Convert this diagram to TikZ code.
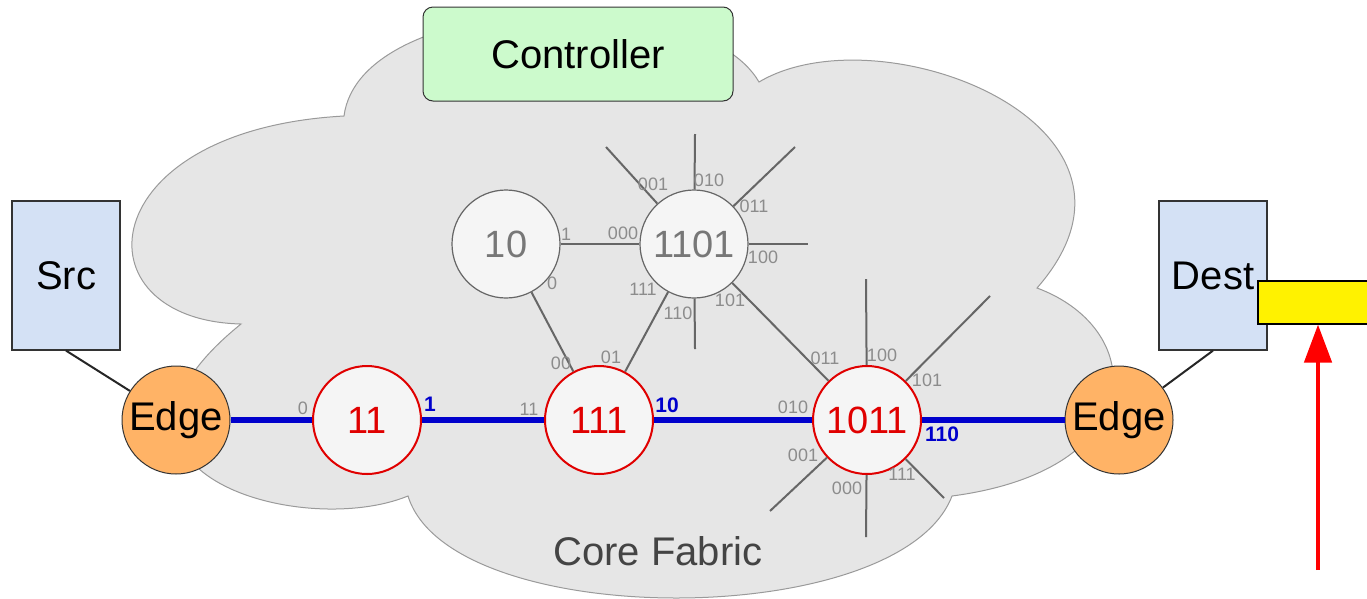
\documentclass[tikz,border=0pt]{standalone}
\usepackage{fontspec}
\setmainfont{Liberation Sans}
\usetikzlibrary{arrows.meta}

\definecolor{cloudfill}{HTML}{E6E6E6}
\definecolor{cloudline}{HTML}{9A9A9A}
\definecolor{nodefill}{HTML}{F5F5F5}
\definecolor{hopred}{HTML}{E00000}
\definecolor{linkgray}{HTML}{666666}
\definecolor{idletext}{HTML}{777777}
\definecolor{labgray}{HTML}{8C8C8C}
\definecolor{pathblue}{HTML}{0000CC}
\definecolor{edgeorange}{HTML}{FFB366}
\definecolor{hostblue}{HTML}{D4E1F5}
\definecolor{ctrlgreen}{HTML}{CCFACC}
\definecolor{fabrictext}{HTML}{444444}

\begin{document}
\begin{tikzpicture}[x=1pt,y=-1pt,
  bigfont/.style={font=\fontsize{40}{42}\selectfont},
  lbl/.style={font=\fontsize{18}{18}\selectfont, text=labgray, inner sep=0pt},
  blbl/.style={font=\bfseries\fontsize{21}{21}\selectfont, text=pathblue, inner sep=0pt},
  hop/.style={circle, draw=hopred, line width=2pt, fill=nodefill, text=hopred,
    minimum size=108pt, inner sep=0pt, font=\fontsize{38}{38}\selectfont},
  idle/.style={circle, draw=linkgray, line width=1.2pt, fill=nodefill, text=idletext,
    minimum size=108pt, inner sep=0pt, font=\fontsize{38}{38}\selectfont},
  edgebox/.style={circle, draw=black!80, line width=1pt, fill=edgeorange,
    minimum size=108pt, inner sep=0pt, bigfont},
  host/.style={rectangle, draw=black!80, line width=1.2pt, fill=hostblue,
    minimum width=108pt, minimum height=149pt, inner sep=0pt, bigfont},
  link/.style={draw=linkgray, line width=2pt},
  fabricpath/.style={draw=pathblue, line width=6pt},
  uplink/.style={draw=black!85, line width=2pt},
  alert/.style={draw=red, line width=4.5pt, -{Triangle[length=38pt,width=27pt]}}
]
\useasboundingbox (0,0) rectangle (1367,598);

% core fabric cloud
\draw[fill=cloudfill, draw=cloudline, line width=1pt]
  (344,116) .. controls (360,-8) and (700,-20) .. (759,82)
  .. controls (880,10) and (1180,125) .. (1037,288)
  .. controls (1150,330) and (1150,470) .. (952,496)
  .. controls (900,632) and (450,632) .. (408,496)
  .. controls (300,540) and (60,470) .. (241,324)
  .. controls (75,320) and (90,130) .. cycle;

\node[bigfont, text=fabrictext] (fabric) at (658,551) {Core Fabric};

% controller
\node[draw=black!80, line width=1pt, fill=ctrlgreen, rounded corners=10pt,
  minimum width=310pt, minimum height=94pt, bigfont] (ctrl) at (578,54) {Controller};

% hosts
\node[host] (src) at (66,275.5) {Src};
\node[host] (dest) at (1213,275.5) {Dest};

% switches
\node[edgebox] (edgeL) at (176,420) {Edge};
\node[edgebox] (edgeR) at (1119,420) {Edge};
\node[hop] (n11) at (367,420) {11};
\node[hop] (n111) at (599,420) {111};
\node[hop] (n1011) at (867,420) {1011};
\node[idle] (n10) at (506,244) {10};
\node[idle] (n1101) at (694,244) {1101};

% unused ports
\coordinate (s001) at (606,147);
\coordinate (s010) at (695,134);
\coordinate (s011) at (795,147);
\coordinate (s100) at (808,244);
\coordinate (s110) at (695,349);
\coordinate (t100) at (866,279);
\coordinate (t101) at (990,296);
\coordinate (t111) at (944,498);
\coordinate (t000) at (866,537);
\coordinate (t001) at (770,511);

\foreach \s in {s001,s010,s011,s100,s110}
  \draw[link] (n1101) -- (\s);
\foreach \t in {t100,t101,t111,t000,t001}
  \draw[link] (n1011) -- (\t);

% inner links
\draw[link] (n10) -- (n1101);
\draw[link] (n10) -- (n111);
\draw[link] (n1101) -- (n111);
\draw[link] (n1101) -- (n1011);

% host uplinks
\draw[uplink] (src.south) -- (edgeL);
\draw[uplink] (dest.south) -- (edgeR);

% forwarding path
\draw[fabricpath] (edgeL) -- (n11);
\draw[fabricpath] (n11) -- (n111);
\draw[fabricpath] (n111) -- (n1011);
\draw[fabricpath] (n1011) -- (edgeR);

% port labels
\node[lbl] (p11a) at (303,408) {0};
\node[blbl] (p11b) at (430,404) {1};
\node[lbl] (p111a) at (529,409) {11};
\node[blbl] (p111b) at (667,405) {10};
\node[lbl] (p111c) at (561,363) {00};
\node[lbl] (p111d) at (611,357) {01};
\node[lbl] (p10a) at (566,234) {1};
\node[lbl] (p10b) at (552,283) {0};
\node[lbl] (q000) at (623,233) {000};
\node[lbl] (q001) at (653,184) {001};
\node[lbl] (q010) at (709,180) {010};
\node[lbl] (q011) at (754,206) {011};
\node[lbl] (q100) at (763,257) {100};
\node[lbl] (q101) at (730,300) {101};
\node[lbl] (q110) at (678,313) {110};
\node[lbl] (q111) at (643,289) {111};
\node[lbl] (r011) at (825,358) {011};
\node[lbl] (r100) at (882,355) {100};
\node[lbl] (r101) at (927,380) {101};
\node[lbl] (r010) at (793,407) {010};
\node[blbl] (r110) at (942,434) {110};
\node[lbl] (r001) at (803,455) {001};
\node[lbl] (r000) at (847,488) {000};
\node[lbl] (r111) at (902,474) {111};

% packet header and pointer
\node[draw=black, line width=1.5pt, fill=yellow, minimum width=120pt, minimum height=43pt,
  inner sep=0pt, anchor=north west] (tag) at (1257,280) {};
\coordinate (arrowfoot) at (1318,570);
\draw[alert] (arrowfoot) -- (arrowfoot |- tag.south);
\end{tikzpicture}
\end{document}
